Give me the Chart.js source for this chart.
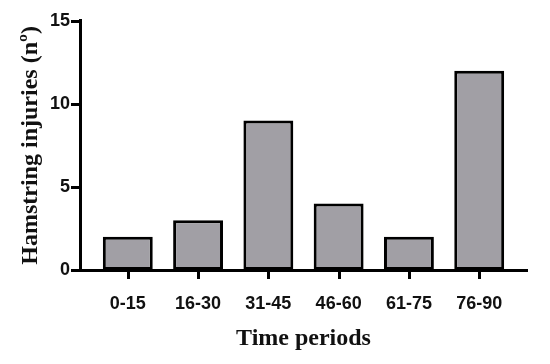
<!DOCTYPE html>
<html>
<head>
<meta charset="utf-8">
<script src="https://cdn.jsdelivr.net/npm/chart.js@4"></script>
<style>
html,body{margin:0;padding:0;background:#fff;}
#wrap{width:550px;height:364px;position:relative;}
</style>
</head>
<body>
<div id="wrap"><canvas id="c" width="550" height="364"></canvas></div>
<script>
const categories = ['0-15', '16-30', '31-45', '46-60', '61-75', '76-90'];
const injuries = [2, 3, 9, 4, 2, 12];
const yTicks = [0, 5, 10, 15];
const xTitle = 'Time periods';
const yTitle = 'Hamstring injuries (nº)';

const points = categories.map((c, i) => ({x: i, y: injuries[i]}));

const TICK_LEN = 9;
const tickMarks = {
  id: 'tickMarks',
  afterDraw(chart) {
    const ctx = chart.ctx;
    const xs = chart.scales.x, ys = chart.scales.y;
    ctx.save();
    ctx.strokeStyle = '#000';
    ctx.lineWidth = 3;
    ctx.lineCap = 'butt';
    xs.ticks.forEach((t, i) => {
      const px = Math.round(xs.getPixelForTick(i)) + 0.5;
      ctx.beginPath();
      ctx.moveTo(px, xs.top);
      ctx.lineTo(px, xs.top + TICK_LEN);
      ctx.stroke();
    });
    ys.ticks.forEach((t, i) => {
      const py = Math.round(ys.getPixelForTick(i)) + 0.5;
      ctx.beginPath();
      ctx.moveTo(ys.right - TICK_LEN, py);
      ctx.lineTo(ys.right, py);
      ctx.stroke();
    });
    ctx.restore();
  }
};

new Chart(document.getElementById('c'), {
  type: 'bar',
  data: {
    datasets: [{
      data: points,
      backgroundColor: '#a19fa5',
      borderColor: '#000',
      borderWidth: 3,
      borderSkipped: false,
      barPercentage: 0.71,
      categoryPercentage: 1
    }]
  },
  plugins: [tickMarks],
  options: {
    responsive: false,
    animation: false,
    devicePixelRatio: 1,
    layout: {padding: {top: 18, right: 23, bottom: 0, left: 0}},
    plugins: {legend: {display: false}, tooltip: {enabled: false}},
    scales: {
      x: {
        type: 'linear',
        offset: false,
        min: -0.68,
        max: 5.68,
        afterBuildTicks: s => { s.ticks = categories.map((c, i) => ({value: i})); },
        afterFit: s => { s.height = 94; },
        grid: {display: false, drawTicks: false},
        border: {display: true, color: '#000', width: 3},
        ticks: {
          callback: v => categories[v],
          color: '#111',
          font: {family: 'Liberation Sans', weight: 'bold', size: 18},
          padding: 23,
          maxRotation: 0,
          autoSkip: false
        },
        title: {
          display: true, text: xTitle, color: '#111',
          font: {family: 'Liberation Serif', weight: 'bold', size: 24},
          padding: {top: 0, bottom: 11}
        }
      },
      y: {
        min: 0,
        max: 15,
        afterBuildTicks: s => { s.ticks = yTicks.map(v => ({value: v})); },
        afterFit: s => { s.width = 80; },
        grid: {display: false, drawTicks: false},
        border: {display: true, color: '#000', width: 3},
        ticks: {
          color: '#111',
          font: {family: 'Liberation Sans', weight: 'bold', size: 18},
          padding: 10
        },
        title: {
          display: true, text: yTitle, color: '#111',
          font: {family: 'Liberation Serif', weight: 'bold', size: 24},
          padding: {top: 16, bottom: 0}
        }
      }
    }
  }
});
</script>
</body>
</html>
